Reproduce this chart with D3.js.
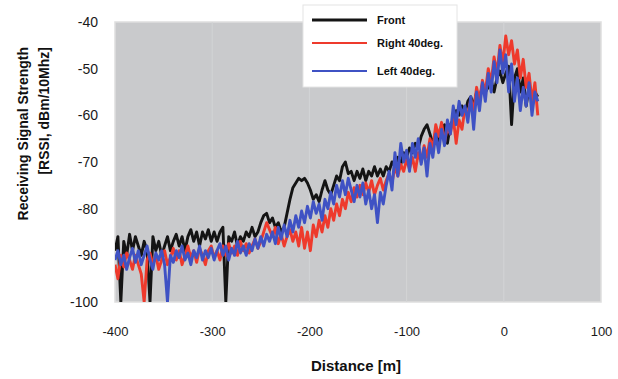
<!DOCTYPE html>
<html>
<head>
<meta charset="utf-8">
<script src="https://cdn.jsdelivr.net/npm/d3@7"></script>
<style>
  body { margin: 0; background: #fff; }
  text { font-family: "Liberation Sans", Arial, sans-serif; }
</style>
</head>
<body>
<svg id="chart" width="618" height="379"></svg>
<script>
// distance samples (m), every 3 m from -400 to 35
const distance = d3.range(-400, 36, 3);

const front = [
  -89, -86, -100, -87, -90, -85.5, -89, -86, -88, -90, -87, -89, -100, -86, -89, -87, -90, -88, -86, -89,
  -87, -85.5, -88, -86, -89, -86, -84.5, -87, -85, -88, -85, -86.5, -84.5, -87, -85, -87, -85, -84, -100, -86,
  -87, -85, -88, -86, -87, -85, -86, -84, -86, -85, -83, -81.5, -81, -83, -82, -84, -83, -85, -84, -81,
  -78, -75.5, -74.5, -73.5, -74, -73.5, -74.5, -76, -78, -77, -78.5, -76, -74, -76, -77, -75, -73, -74, -71, -70,
  -72.5, -72, -74, -72, -73.5, -71.5, -74, -72, -73, -71, -73, -71.5, -73, -71, -72, -70, -71, -69, -70.5, -68,
  -69, -67, -68, -66, -67, -64.5, -63, -62, -64, -66, -64, -65.5, -63, -62, -66, -62, -61, -59, -60, -58,
  -59.5, -57, -56, -58, -55, -56.5, -53.5, -55, -54, -52.5, -55, -52, -50.5, -53, -51, -49.5, -62, -52, -50, -55,
  -52, -58, -54, -57, -55, -56
];

const right40 = [
  -92, -95, -90, -92.5, -89.5, -91, -93, -90, -92, -94, -100, -91, -89.5, -92, -90, -93, -91, -89, -92, -90.5,
  -88.5, -91, -89, -92, -90, -88, -90.5, -89, -91.5, -88.5, -90, -92, -89, -88, -90.5, -89, -91, -88, -90, -87.5,
  -89.5, -88, -90, -87, -89, -87.5, -89.5, -88, -86.5, -88.5, -87, -85, -83, -84.5, -86, -84, -87.5, -85.5, -88, -86,
  -84.5, -87, -85, -88, -84, -88.5, -85, -89, -83.5, -86, -82.5, -85, -81.5, -84, -80, -82.5, -79, -81.5, -78, -80,
  -76.5, -78.5, -75.5, -77.5, -75, -77, -74.5, -76.5, -74, -77, -75, -73.5, -76, -74, -72.5, -74.5, -71, -73, -70.5, -72,
  -69.5, -71.5, -69, -72, -68, -70, -66.5, -69, -65, -67, -62, -64.5, -61.5, -66, -62.5, -64, -60.5, -66, -61, -63,
  -58.5, -60, -56.5, -59, -54, -57, -52.5, -55, -50, -53, -47.5, -51, -45, -49, -43, -47, -44, -49, -46, -52,
  -48, -54, -51, -57, -53, -60
];

const left40 = [
  -91, -89, -92, -90, -93, -90.5, -88.5, -91.5, -89, -92, -90, -88, -91, -93, -89.5, -91, -89, -92, -100, -90,
  -91.5, -89, -90.5, -88, -91, -89.5, -92, -89, -90.5, -88, -91, -89, -90.5, -88.5, -91, -89, -87.5, -90, -88, -91,
  -88.5, -90, -87, -89.5, -88, -90, -87.5, -89, -86.5, -88.5, -86, -88, -85.5, -87, -85, -87.5, -84, -86.5, -83.5, -86,
  -82.5, -85, -81.5, -84, -80.5, -83, -79.5, -82, -78.5, -81, -79, -82.5, -78, -80, -76.5, -79, -75, -77.5, -74, -77,
  -73.5, -76, -78.5, -75, -77.5, -74.5, -79, -76, -80, -77, -83, -76.5, -79, -75, -72, -76, -68, -73, -66, -70,
  -67.5, -72, -66, -69, -65, -70.5, -67, -73, -66, -69, -64, -68, -63, -66.5, -61, -64, -58, -62, -57, -60,
  -58, -61.5, -56, -63, -55, -59, -53, -57, -51, -55, -48.5, -53, -46, -51, -47, -55, -49, -57, -52, -59,
  -54, -58, -53, -60, -55, -57
];

const seriesNames = ["Front", "Right 40deg.", "Left 40deg."];
const seriesColors = ["#141414", "#ee3a2c", "#3f52c4"];
const xTicks = [-400, -300, -200, -100, 0, 100];
const yTicks = [-40, -50, -60, -70, -80, -90, -100];

const svg = d3.select("#chart");
const pLeft = 115, pRight = 601, pTop = 22, pBottom = 302;

const x = d3.scaleLinear().domain([-400, 100]).range([pLeft, pRight]);
const y = d3.scaleLinear().domain([-100, -40]).range([pBottom, pTop]);

// plot background
svg.append("rect").attr("x", pLeft).attr("y", pTop)
  .attr("width", pRight - pLeft).attr("height", pBottom - pTop)
  .attr("fill", "#c9cacc").attr("stroke", "#dedede").attr("stroke-width", 1.5);

// faint grid
svg.append("g").selectAll("line").data(xTicks.slice(1, -1)).join("line")
  .attr("x1", d => x(d)).attr("x2", d => x(d))
  .attr("y1", pTop).attr("y2", pBottom)
  .attr("stroke", "#d3d4d6").attr("stroke-width", 1);

svg.append("defs").append("clipPath").attr("id", "clip")
  .append("rect").attr("x", pLeft).attr("y", pTop)
  .attr("width", pRight - pLeft).attr("height", pBottom - pTop);

// lines
const line = d3.line().x((d, i) => x(distance[i])).y(d => y(d));
const plot = svg.append("g").attr("clip-path", "url(#clip)");
[front, right40, left40].forEach((s, k) => {
  plot.append("path").datum(s)
    .attr("d", line)
    .attr("fill", "none")
    .attr("stroke", seriesColors[k])
    .attr("stroke-width", 2.9)
    .attr("stroke-linejoin", "round");
});

// axes (labels only), plain hyphen for negatives like the original
const fmt = d => String(d);
const xAxis = svg.append("g").attr("transform", `translate(0, ${pBottom})`)
  .call(d3.axisBottom(x).tickValues(xTicks).tickFormat(fmt).tickSize(0).tickPadding(25));
const yAxis = svg.append("g").attr("transform", `translate(${pLeft}, 0)`)
  .call(d3.axisLeft(y).tickValues(yTicks).tickFormat(fmt).tickSize(0).tickPadding(17));
[xAxis, yAxis].forEach(a => {
  a.select(".domain").remove();
  a.selectAll("text").attr("font-size", 13).attr("fill", "#1a1a1a")
    .style("font-family", "'Liberation Sans', Arial, sans-serif");
});
yAxis.selectAll("text").attr("font-size", 14);

// axis titles
svg.append("text").attr("x", 356).attr("y", 371)
  .attr("text-anchor", "middle").attr("font-weight", "bold").attr("font-size", 15)
  .attr("fill", "#111").text("Distance [m]");

svg.append("text").attr("transform", "translate(28, 47) rotate(-90)")
  .attr("text-anchor", "end").attr("font-weight", "bold").attr("font-size", 14)
  .attr("fill", "#111").text("Receiving Signal Strength");
svg.append("text").attr("transform", "translate(49, 47) rotate(-90)")
  .attr("text-anchor", "end").attr("font-weight", "bold").attr("font-size", 14)
  .attr("fill", "#111").text("[RSSI, dBm/10Mhz]");

// legend
const legend = svg.append("g");
legend.append("rect").attr("x", 303).attr("y", 5).attr("width", 154).attr("height", 82)
  .attr("fill", "#fff").attr("stroke", "#e4e4e4");
const legY = [20, 43, 71];
seriesNames.forEach((n, k) => {
  legend.append("line").attr("x1", 312).attr("x2", 367)
    .attr("y1", legY[k]).attr("y2", legY[k])
    .attr("stroke", seriesColors[k]).attr("stroke-width", k === 0 ? 3 : 2.2);
  legend.append("text").attr("x", 377).attr("y", legY[k] + 4)
    .attr("font-size", 11).attr("font-weight", "bold").attr("fill", "#111").text(n);
});
</script>
</body>
</html>
